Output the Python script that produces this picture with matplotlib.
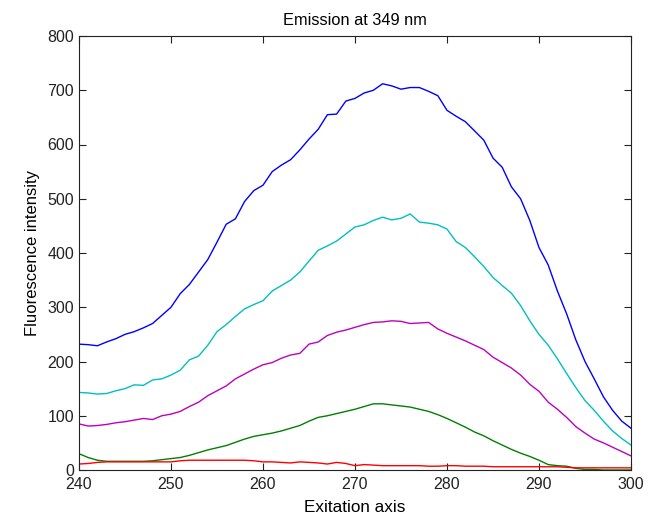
import numpy as np
import matplotlib
matplotlib.use('Agg')
from matplotlib import pyplot as plt

# excitation wavelengths (nm)
wavelength = list(range(240, 301))

# fluorescence intensity for each sample
blue = [232, 231, 229, 236, 242, 250, 255, 262, 270, 285,
        300, 325, 342, 365, 388, 420, 453, 463, 495, 515,
        525, 550, 562, 572, 590, 610, 628, 655, 656, 680,
        685, 695, 700, 712, 708, 702, 705, 705, 698, 690,
        663, 652, 642, 625, 608, 575, 558, 522, 500, 460,
        410, 378, 330, 288, 240, 200, 168, 135, 110, 90, 77]
cyan = [143, 142, 140, 141, 146, 150, 157, 156, 166, 168,
        175, 184, 203, 210, 230, 255, 268, 283, 297, 305,
        312, 330, 340, 350, 365, 385, 405, 413, 422, 435,
        448, 452, 460, 466, 461, 464, 472, 457, 455, 452,
        444, 421, 410, 393, 375, 355, 340, 326, 303, 275,
        250, 230, 205, 178, 152, 128, 110, 90, 72, 58, 46]
magenta = [85, 81, 82, 84, 87, 89, 92, 95, 93, 100,
           103, 108, 117, 125, 137, 146, 155, 168, 177, 186,
           194, 198, 206, 212, 215, 232, 236, 248, 254, 258,
           263, 268, 272, 273, 275, 274, 270, 271, 272, 260,
           252, 245, 238, 230, 222, 208, 198, 188, 175, 158,
           145, 125, 112, 97, 80, 68, 57, 50, 42, 34, 26]
green = [30, 23, 18, 16, 16, 16, 16, 16, 17, 19,
         21, 23, 27, 32, 37, 41, 45, 51, 57, 62,
         65, 68, 72, 77, 82, 90, 97, 100, 104, 108,
         112, 117, 122, 122, 120, 118, 116, 112, 108, 102,
         95, 87, 79, 70, 63, 54, 46, 38, 31, 25,
         18, 10, 8, 7, 3, 1, 1, 0, 0, 0, 0]
red = [11, 12, 14, 15, 15, 15, 15, 15, 15, 15,
       15, 17, 18, 18, 18, 18, 18, 18, 18, 17,
       15, 15, 14, 13, 15, 14, 13, 11, 14, 12,
       8, 10, 9, 8, 8, 8, 8, 8, 7, 7,
       8, 8, 7, 7, 7, 6, 6, 6, 6, 6,
       6, 6, 6, 5, 4, 4, 4, 4, 4, 4, 4]

series = [blue, cyan, magenta, green, red]
colors = ['#0000ff', '#00bfbf', '#bf00bf', '#008000', '#ff0000']

plt.rcParams['font.family'] = ['Liberation Sans', 'DejaVu Sans']
plt.rcParams['font.size'] = 11

fig = plt.figure(figsize=(6.5, 5.17), dpi=100)
ax = fig.add_axes([79 / 650, 47 / 517, 552 / 650, 434 / 517])

for vals, c in zip(series, colors):
    ax.plot(wavelength, vals, color=c, lw=1.0)

ax.set_xlim(240, 300)
ax.set_ylim(0, 800)
ax.set_xticks(np.arange(240, 301, 10))
ax.set_yticks(np.arange(0, 801, 100))
ax.tick_params(direction='in', length=5, top=True, right=True, width=0.8,
               labelsize=11.5, color='#222222', labelcolor='#222222')
ax.tick_params(axis='x', pad=5)
for sp in ax.spines.values():
    sp.set_linewidth(0.8)
    sp.set_color('#222222')

ax.set_title('Emission at 349 nm', pad=8, fontsize=11.8)
ax.set_xlabel('Exitation axis', labelpad=6, fontsize=12.3)
ax.set_ylabel('Fluorescence intensity', labelpad=5, fontsize=12)

fig.savefig('out.png', dpi=100)
